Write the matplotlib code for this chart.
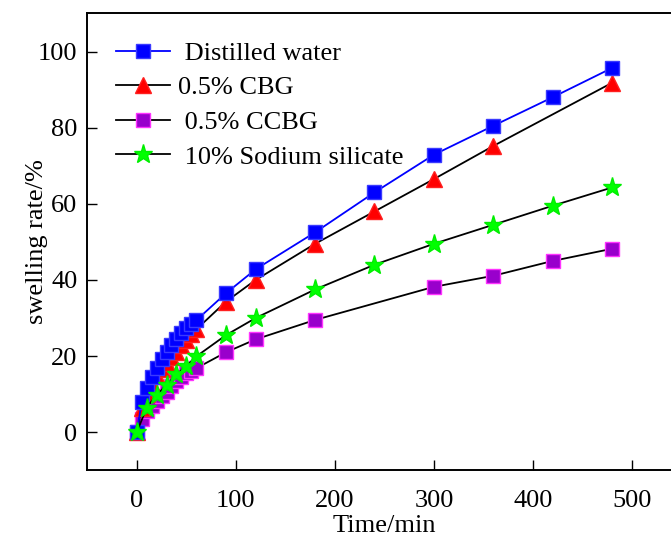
import numpy as np
import matplotlib
matplotlib.use("Agg")
import matplotlib.pyplot as plt

plt.rcParams['font.family'] = ['Liberation Serif', 'DejaVu Serif']
plt.rcParams['mathtext.fontset'] = 'stix'

# ======================================================
# Data
# ======================================================
t_water = [0, 5, 10, 15, 20, 25, 30, 35, 40, 45, 50, 55, 60, 90, 120, 180, 240, 300, 360, 420, 480]
v_water = [0, 8.0, 11.5, 14.5, 17.0, 19.2, 21.2, 23.0, 24.6, 26.0, 27.3, 28.4, 29.4, 36.5, 42.8, 52.5, 63.0, 72.9, 80.5, 88.0, 95.7]

t_cbg = [0, 5, 10, 15, 20, 25, 30, 35, 40, 45, 50, 55, 60, 90, 120, 180, 240, 300, 360, 480]
v_cbg = [0, 6.5, 10.0, 12.7, 14.8, 16.7, 18.3, 19.8, 21.2, 22.8, 24.3, 25.7, 27.0, 34.3, 40.0, 49.5, 58.0, 66.5, 75.2, 91.8]

t_ccbg = [0, 5, 10, 15, 20, 25, 30, 35, 40, 45, 50, 55, 60, 90, 120, 180, 300, 360, 420, 480]
v_ccbg = [0, 3.5, 5.5, 7.0, 8.2, 9.5, 10.7, 12.2, 13.5, 14.6, 15.5, 16.2, 16.8, 21.0, 24.4, 29.5, 38.2, 41.1, 45.0, 48.2]

t_silicate = [0, 10, 20, 30, 40, 50, 60, 90, 120, 180, 240, 300, 360, 420, 480]
v_silicate = [0, 6.5, 9.8, 12.4, 15.2, 17.4, 19.9, 25.5, 30.0, 37.5, 44.0, 49.5, 54.5, 59.5, 64.3]

x_ticks = [0, 100, 200, 300, 400, 500]
y_ticks = [0, 20, 40, 60, 80, 100]

# ======================================================
# Plot
# ======================================================
fig = plt.figure(figsize=(6.71, 5.35), dpi=100)
ax = fig.add_axes([0.1301, 0.1209, 0.8855, 0.8539])

ax.plot(t_water, v_water, color='blue', lw=1.3, marker='s', ms=10.5,
        mfc='#0000ff', mec='#3a3aff', label=' Distilled water', zorder=4)
ax.plot(t_cbg, v_cbg, color='black', lw=1.3, marker='^', ms=12,
        mfc='#ff0000', mec='#ff2020', label='0.5% CBG', zorder=3)
ax.plot(t_ccbg, v_ccbg, color='black', lw=1.3, marker='s', ms=9.5,
        mfc='#9900cc', mec='#ff33ff', label=' 0.5% CCBG', zorder=2)
ax.plot(t_silicate, v_silicate, color='black', lw=1.3, marker='*', ms=14,
        mfc='#00ff00', mec='#00ee00', label=' 10% Sodium silicate', zorder=5)

ax.set_xlim(-50, 550)
ax.set_ylim(-10, 110)
ax.set_xticks(x_ticks)
ax.set_yticks(y_ticks)
ax.tick_params(direction='in', length=7.5, width=1.0, labelsize=19, pad=7)
ax.tick_params(axis='x', pad=14)
ax.spines['right'].set_visible(False)
for s in ['left', 'bottom', 'top']:
    ax.spines[s].set_linewidth(1.4)

ax.set_xlabel('Time/min', fontsize=19, labelpad=2)
ax.set_ylabel('swelling rate/%', fontsize=19, labelpad=-7)

ax.legend(loc='upper left', frameon=False, fontsize=19, handlelength=2.05,
          handletextpad=0.3, labelspacing=0.42, borderaxespad=0.4,
          bbox_to_anchor=(0.013, 0.985))

fig.savefig("out.png", dpi=100)
plt.close(fig)
